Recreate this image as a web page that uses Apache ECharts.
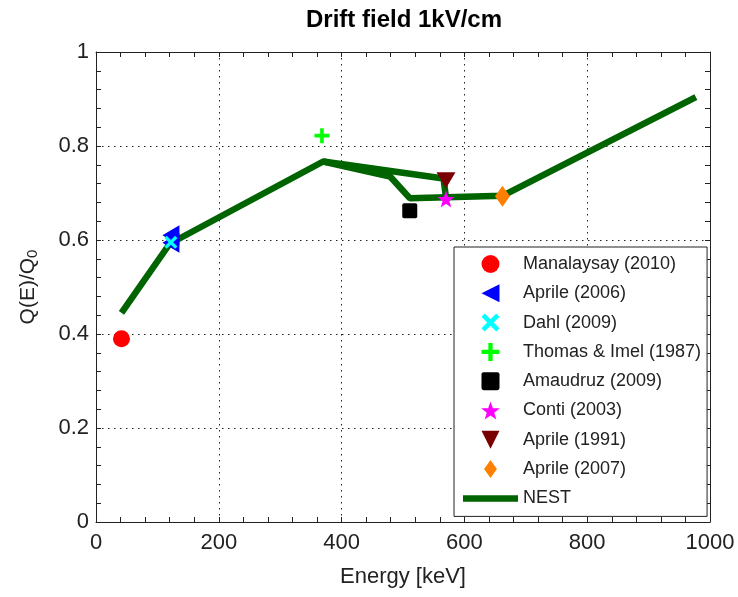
<!DOCTYPE html>
<html lang="en">

<head>
    <meta charset="UTF-8">
    <title>Drift field 1kV/cm</title>
    <style>
        * {
            margin: 0;
            padding: 0;
        }

        #myEcharts {
            width: 738px;
            height: 597px;
            background: #fff;
        }
    </style>
</head>

<body>
    <div id="myEcharts"></div>
    <script src="https://cdn.jsdelivr.net/npm/echarts@6/dist/echarts.min.js"></script>
    <script>
        // measured points [energy keV, Q(E)/Q0]
        var manalaysay2010 = [[41.5, 0.39]];
        var aprile2006 = [[122, 0.61], [122, 0.594]];
        var dahl2009 = [[122, 0.595]];
        var thomasImel1987 = [[368, 0.822]];
        var amaudruz2009 = [[511, 0.662]];
        var conti2003 = [[570, 0.687]];
        var aprile1991 = [[570, 0.727]];
        var aprile2007 = [[662, 0.693]];

        // NEST curve (main path + the short branch at 570 keV)
        var nestMain = [[41.5, 0.445], [120, 0.592], [370, 0.767], [479, 0.735], [511, 0.689], [662, 0.694], [977, 0.904]];
        var nestBranch = [[370, 0.767], [566, 0.731], [570, 0.69]];

        var xTicks = [0, 200, 400, 600, 800, 1000];
        var yTicks = [0, 0.2, 0.4, 0.6, 0.8, 1];

        var FONT = 'Liberation Sans';
        var INK = '#222';

        // custom marker shapes (matlab-ish)
        var SYM_TRI_LEFT = 'path://M0,50 L100,0 L100,100 Z';
        var SYM_TRI_DOWN = 'path://M0,0 L100,0 L50,100 Z';
        var SYM_X = 'path://M0,18 L18,0 L50,32 L82,0 L100,18 L68,50 L100,82 L82,100 L50,68 L18,100 L0,82 L32,50 Z';
        var SYM_PLUS = 'path://M38,0 H62 V38 H100 V62 H62 V100 H38 V62 H0 V38 H38 Z';
        var SYM_STAR = 'path://M50,0 L62,34 L98,35 L69,57 L80,92 L50,71 L20,92 L31,57 L2,35 L38,34 Z';
        var SYM_SQUARE = 'path://M12,0 H88 Q100,0 100,12 V88 Q100,100 88,100 H12 Q0,100 0,88 V12 Q0,0 12,0 Z';
        var SYM_DIAMOND = 'path://M50,0 L100,70 L50,140 L0,70 Z';
        var SYM_BAR = 'path://M0,0 H550 V65 H0 Z';

        function axisPair(dim, ticks) {
            var base = {
                type: 'value',
                min: ticks[0],
                max: ticks[ticks.length - 1],
                interval: ticks[1] - ticks[0],
                axisLine: { show: true, onZero: false, lineStyle: { color: INK, width: 1 } },
                axisTick: { show: true, inside: true, length: 5, lineStyle: { color: INK } },
                minorTick: { show: true, splitNumber: 5, length: 5, lineStyle: { color: INK } },
                splitLine: { show: false }
            };
            var main = echarts.util.merge({
                position: dim == 'x' ? 'bottom' : 'left',
                axisLabel: {
                    show: true,
                    color: INK,
                    fontFamily: FONT,
                    fontSize: 22,
                    margin: dim == 'x' ? 10 : 7,
                    formatter: function (v) {
                        if (dim == 'x') return String(v);
                        return v == 0 || v == 1 ? String(v) : v.toFixed(1);
                    }
                },
                splitLine: { show: true, lineStyle: { color: INK, width: 1, type: [1.5, 4.5] } }
            }, base, false);
            var mirror = echarts.util.merge({
                position: dim == 'x' ? 'top' : 'right',
                axisLabel: { show: false }
            }, base, false);
            return [main, mirror];
        }

        function getOption() {
            var xAxes = axisPair('x', xTicks);
            var yAxes = axisPair('y', yTicks);

            xAxes[0].name = 'Energy [keV]';
            xAxes[0].nameLocation = 'middle';
            xAxes[0].nameGap = 44;
            xAxes[0].nameTextStyle = { color: INK, fontFamily: FONT, fontSize: 22 };

            yAxes[0].name = 'Q(E)/Q{s|0}';
            yAxes[0].nameLocation = 'middle';
            yAxes[0].nameGap = 56;
            yAxes[0].nameTextStyle = {
                color: INK, fontFamily: FONT, fontSize: 21,
                rich: { s: { fontSize: 15, fontFamily: FONT, color: INK, verticalAlign: 'bottom', padding: [8, 0, 0, 0] } }
            };

            function points(name, data, symbol, size, color) {
                return {
                    name: name,
                    type: 'scatter',
                    data: data,
                    symbol: symbol,
                    symbolSize: size,
                    itemStyle: { color: color, opacity: 1 },
                    z: 5
                };
            }

            var nestStyle = {
                type: 'line',
                name: 'NEST',
                symbol: 'none',
                lineStyle: { color: '#006400', width: 6.5 },
                itemStyle: { color: '#006400' },
                z: 3
            };

            var series = [
                points('Manalaysay (2010)', manalaysay2010, 'circle', 17, '#ff0000'),
                points('Aprile (2006)', aprile2006, SYM_TRI_LEFT, [17, 20], '#0000ff'),
                points('Dahl (2009)', dahl2009, SYM_X, 13, '#00ffff'),
                points('Thomas & Imel (1987)', thomasImel1987, SYM_PLUS, 15, '#00ff00'),
                points('Amaudruz (2009)', amaudruz2009, SYM_SQUARE, 15, '#000000'),
                points('Conti (2003)', conti2003, SYM_STAR, 17, '#ff00ff'),
                points('Aprile (1991)', aprile1991, SYM_TRI_DOWN, [19, 16], '#7a0000'),
                points('Aprile (2007)', aprile2007, SYM_DIAMOND, [15, 21], '#ff8000'),
                echarts.util.merge({ data: nestMain }, nestStyle, false),
                echarts.util.merge({ data: nestBranch }, nestStyle, false)
            ];

            var legendIcons = {
                'Manalaysay (2010)': 'circle',
                'Aprile (2006)': SYM_TRI_LEFT,
                'Dahl (2009)': SYM_X,
                'Thomas & Imel (1987)': SYM_PLUS,
                'Amaudruz (2009)': SYM_SQUARE,
                'Conti (2003)': SYM_STAR,
                'Aprile (1991)': SYM_TRI_DOWN,
                'Aprile (2007)': SYM_DIAMOND,
                'NEST': SYM_BAR
            };
            var legendData = [];
            for (var k in legendIcons) {
                legendData.push({ name: k, icon: legendIcons[k] });
            }

            return {
                animation: false,
                backgroundColor: '#fff',
                textStyle: { fontFamily: FONT },
                title: {
                    text: 'Drift field 1kV/cm',
                    left: 306,
                    top: 8,
                    padding: 0,
                    textStyle: { color: '#000', fontFamily: FONT, fontSize: 24, fontWeight: 'bold' }
                },
                grid: { left: 96, right: 28, top: 52, bottom: 75, containLabel: false },
                legend: {
                    orient: 'vertical',
                    left: 454,
                    top: 247,
                    padding: [8, 6, 9, 9],
                    itemWidth: 55,
                    itemHeight: 18,
                    itemGap: 11.3,
                    symbolKeepAspect: true,
                    backgroundColor: '#fff',
                    borderColor: INK,
                    borderWidth: 1,
                    borderRadius: 0,
                    textStyle: { color: INK, fontFamily: FONT, fontSize: 18, lineHeight: 18 },
                    data: legendData
                },
                xAxis: xAxes,
                yAxis: yAxes,
                series: series
            };
        }

        var myEcharts = echarts.init(document.getElementById('myEcharts'), null, { renderer: 'canvas' });
        myEcharts.setOption(getOption());
    </script>
</body>

</html>
